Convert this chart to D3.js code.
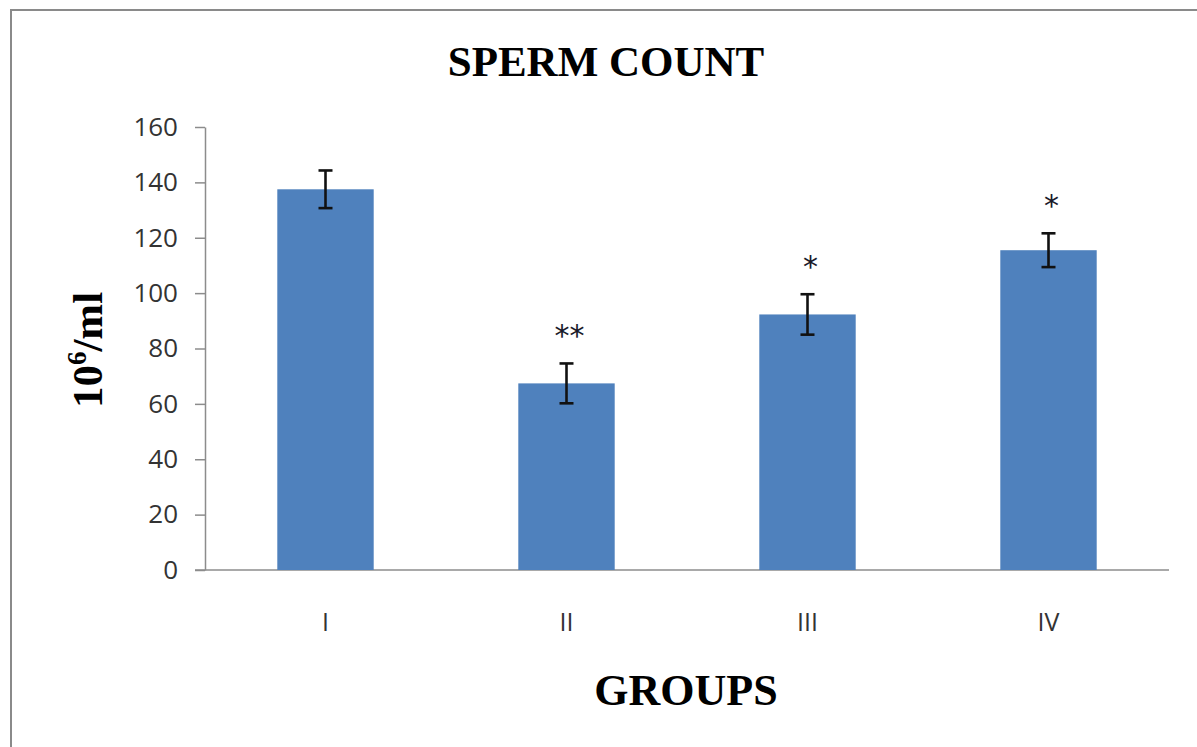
<!DOCTYPE html>
<html>
<head>
<meta charset="utf-8">
<script src="https://cdn.jsdelivr.net/npm/d3@7/dist/d3.min.js"></script>
<style>
  html, body { margin: 0; padding: 0; background: #fff; }
  svg { display: block; }
</style>
</head>
<body>
<svg id="chart" width="1197" height="747"></svg>
<script>
// ---- data ----
const groups = ["I", "II", "III", "IV"];
const means = [137.5, 67.4, 92.3, 115.5];
const errors = [6.8, 7.2, 7.3, 6.1];
const significance = ["", "**", "*", "*"];
const yTicks = [0, 20, 40, 60, 80, 100, 120, 140, 160];

const title = "SPERM COUNT";
const xTitle = "GROUPS";

// ---- layout ----
const svg = d3.select("#chart");
const W = 1197, H = 747;
const plot = { left: 205, right: 1169, top: 127, bottom: 570 };

// outer frame (top and left edges visible)
svg.append("path")
  .attr("d", `M11,${H} L11,10 L${W},10`)
  .attr("fill", "none")
  .attr("stroke", "#8a8a8a")
  .attr("stroke-width", 2);

const x = d3.scaleBand()
  .domain(groups)
  .range([plot.left, plot.right])
  .paddingInner(0.6)
  .paddingOuter(0.3);

const y = d3.scaleLinear()
  .domain([0, 160])
  .range([plot.bottom, plot.top]);

// y axis
const yAxis = d3.axisLeft(y).tickValues(yTicks).tickSize(10).tickPadding(17).tickSizeOuter(0);
const gy = svg.append("g").attr("transform", `translate(${plot.left},0)`).call(yAxis);
gy.select(".domain").attr("stroke", "#8c8c8c").attr("stroke-width", 1.5);
gy.selectAll(".tick line").attr("stroke", "#8c8c8c").attr("stroke-width", 1.5);
gy.selectAll(".tick text")
  .attr("fill", "#333")
  .style("font-family", "'Open Sans', 'Liberation Sans', sans-serif")
  .style("font-size", "26px");

// x axis line
svg.append("line")
  .attr("x1", plot.left - 10).attr("x2", plot.right)
  .attr("y1", y(0)).attr("y2", y(0))
  .attr("stroke", "#8c8c8c").attr("stroke-width", 1.5);

// x labels
svg.append("g").selectAll("text")
  .data(groups).join("text")
  .attr("x", d => x(d) + x.bandwidth() / 2)
  .attr("y", 631)
  .attr("text-anchor", "middle")
  .attr("fill", "#333")
  .style("font-family", "'Open Sans', 'Liberation Sans', sans-serif")
  .style("font-size", "25px")
  .text(d => d);

// bars
svg.append("g").selectAll("rect")
  .data(groups).join("rect")
  .attr("x", d => x(d))
  .attr("width", x.bandwidth())
  .attr("y", (d, i) => y(means[i]))
  .attr("height", (d, i) => y(0) - y(means[i]))
  .attr("fill", "#4f81bd");

// error bars
const eb = svg.append("g").attr("stroke", "#111").attr("stroke-width", 2.6);
groups.forEach((g, i) => {
  const cx = x(g) + x.bandwidth() / 2;
  const top = y(means[i] + errors[i]);
  const bot = y(means[i] - errors[i]);
  eb.append("line").attr("x1", cx).attr("x2", cx).attr("y1", top).attr("y2", bot);
  eb.append("line").attr("x1", cx - 7).attr("x2", cx + 7).attr("y1", top).attr("y2", top);
  eb.append("line").attr("x1", cx - 7).attr("x2", cx + 7).attr("y1", bot).attr("y2", bot);
});

// significance stars
svg.append("g").selectAll("text")
  .data(groups).join("text")
  .attr("x", d => x(d) + x.bandwidth() / 2 + 3)
  .attr("y", (d, i) => y(means[i] + errors[i]) - 17)
  .attr("text-anchor", "middle")
  .attr("fill", "#1a1a2a")
  .style("font-family", "'DejaVu Sans', sans-serif")
  .style("font-size", "30px")
  .text((d, i) => significance[i]);

// title
svg.append("text")
  .attr("x", 606).attr("y", 76)
  .attr("text-anchor", "middle")
  .style("font-family", "'Liberation Serif', 'Times New Roman', serif")
  .style("font-weight", "bold")
  .style("font-size", "43px")
  .attr("fill", "#000")
  .text(title);

// x title
svg.append("text")
  .attr("x", 686).attr("y", 705)
  .attr("text-anchor", "middle")
  .style("font-family", "'Liberation Serif', 'Times New Roman', serif")
  .style("font-weight", "bold")
  .style("font-size", "44px")
  .attr("fill", "#000")
  .text(xTitle);

// y title: 10^6/ml
const yt = svg.append("text")
  .attr("transform", "translate(102,350) rotate(-90)")
  .attr("text-anchor", "middle")
  .style("font-family", "'Liberation Serif', 'Times New Roman', serif")
  .style("font-weight", "bold")
  .style("font-size", "43px")
  .attr("fill", "#000");
yt.append("tspan").text("10");
yt.append("tspan").attr("dy", -16).style("font-size", "27px").text("6");
yt.append("tspan").attr("dy", 16).text("/ml");
</script>
</body>
</html>
